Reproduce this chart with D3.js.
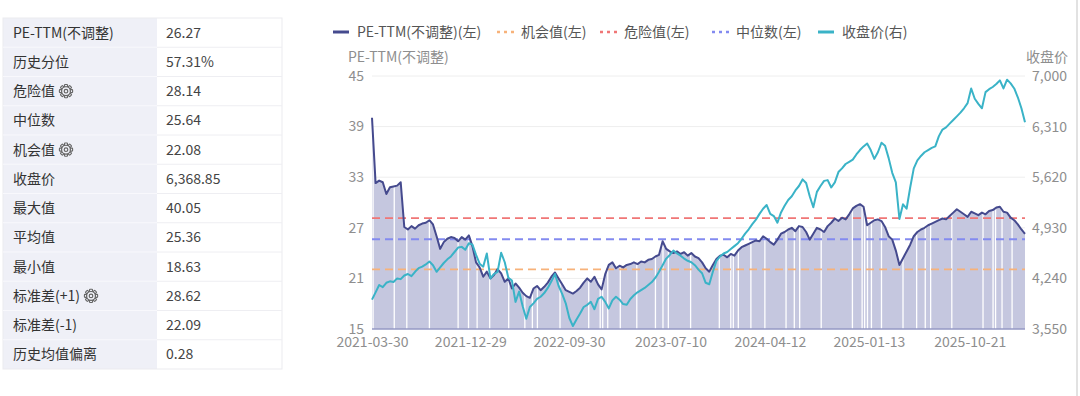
<!DOCTYPE html>
<html>
<head>
<meta charset="utf-8">
<script src="https://cdn.jsdelivr.net/npm/d3@7"></script>
<style>
  body { margin: 0; background: #fff; }
  text { font-family: "Noto Sans CJK SC", "Noto Sans", sans-serif; }
</style>
</head>
<body>
<div id="chart"></div>
<script>
// summary table
const tableLabels = ["PE-TTM(不调整)", "历史分位", "危险值", "中位数", "机会值", "收盘价",
                     "最大值", "平均值", "最小值", "标准差(+1)", "标准差(-1)", "历史均值偏离"];
const tableValues = ["26.27", "57.31%", "28.14", "25.64", "22.08", "6,368.85",
                     "40.05", "25.36", "18.63", "28.62", "22.09", "0.28"];
const gearRows = ["危险值", "机会值", "标准差(+1)"];

// series, sampled every 10 days from the start date
const startDay = "2021-03-30";
const stepDays = 10;
const peValues = [
  40.05, 32.3, 32.6, 32.4, 31.0, 31.8, 31.9, 32.0, 32.4, 27.1,
  26.8, 27.2, 26.9, 27.3, 27.5, 27.6, 27.9, 27.4, 26.0, 24.5,
  25.3, 25.7, 25.9, 25.8, 25.4, 25.9, 25.6, 26.1, 24.8, 22.9,
  22.3, 21.2, 21.8, 21.0, 21.4, 22.1, 21.6, 20.6, 21.0, 19.8,
  20.4, 19.9, 19.3, 18.9, 18.7, 19.8, 20.1, 19.6, 20.0, 20.5,
  21.2, 21.7, 21.0, 20.3, 19.6, 19.4, 19.2, 19.5, 19.9, 20.5,
  21.0, 20.6, 21.2, 20.3, 19.7, 21.5, 22.6, 22.9, 22.2, 22.5,
  22.3, 22.6, 22.7, 22.9, 22.7, 23.0, 22.9, 23.2, 23.3, 23.6,
  23.8, 25.4, 24.5, 24.2, 24.0, 24.2, 23.9, 24.1, 23.7, 24.0,
  23.6, 23.4, 22.9, 22.2, 21.8, 22.6, 23.3, 23.7, 23.8, 23.5,
  23.9, 23.7, 24.3, 24.7, 24.9, 25.1, 25.3, 25.5, 25.4, 26.0,
  25.7, 25.3, 25.0, 25.6, 26.3, 26.5, 26.8, 27.0, 26.6, 27.2,
  27.1, 26.5, 25.6, 26.3, 27.0, 26.8, 26.5, 27.2, 27.6, 28.1,
  27.8, 28.2, 28.0, 28.6, 29.3, 29.6, 29.8, 29.5, 27.3, 27.6,
  27.9, 28.0, 27.8, 27.1, 26.0, 25.6, 24.3, 22.6, 23.4, 24.2,
  25.0, 26.0, 26.5, 26.8, 27.0, 27.3, 27.5, 27.7, 27.9, 28.1,
  28.0, 28.4, 28.8, 29.2, 28.9, 28.6, 28.3, 28.9, 28.7, 28.5,
  28.8, 28.6, 29.0, 29.1, 29.4, 29.5, 28.9, 28.8, 28.2, 27.9,
  27.4, 26.8, 26.27
];
const closeValues = [
  3950, 4050, 4150, 4120, 4180, 4200, 4190, 4240, 4230, 4280,
  4300, 4270, 4330, 4380, 4400, 4430, 4470, 4420, 4330, 4390,
  4450, 4500, 4540, 4600, 4660, 4670, 4630, 4720, 4700, 4560,
  4440, 4400, 4580, 4240, 4300, 4330, 4590, 4460, 4250, 4210,
  3920, 4060, 3860, 3690, 3850, 3900, 3960, 3990, 4040, 4110,
  4200, 4300, 4140, 4030, 3900, 3700, 3590, 3680, 3760, 3850,
  3880, 3920, 3820, 3960, 3990, 3920, 3830, 3940, 3990, 3950,
  3890, 3880, 3960, 4010, 4050, 4080, 4110, 4150, 4190, 4250,
  4330, 4420, 4510, 4560, 4620, 4580, 4550, 4510, 4480, 4460,
  4420, 4360, 4310, 4180, 4160, 4330, 4480, 4540, 4580, 4600,
  4640, 4680, 4720, 4780, 4850, 4910, 4980, 5040, 5120, 5190,
  5240, 5120, 5090, 5000, 5140, 5230, 5310, 5360, 5440, 5500,
  5590, 5540, 5360, 5210, 5420, 5500, 5570, 5580, 5480, 5550,
  5690, 5740, 5800, 5830, 5860, 5930, 5990, 6040, 6080, 5990,
  5870, 5960, 6090, 6050, 5880, 5680, 5550, 5050, 5250, 5190,
  5480, 5740, 5850, 5910, 5960, 5990, 6020, 6040, 6180, 6270,
  6300, 6350, 6400, 6450, 6500, 6560, 6630, 6830, 6690, 6620,
  6560, 6780, 6820, 6850, 6890, 6940, 6830, 6950, 6900, 6830,
  6710, 6560, 6368.85
];

// reference levels
const dangerValue = 28.14;
const medianValue = 25.64;
const chanceValue = 22.08;

// market holidays (gaps in the area)
const holidays = [
  "2021-04-02", "2021-05-31", "2021-07-05", "2021-09-06", "2021-11-25", "2021-12-24",
  "2022-01-17", "2022-02-21", "2022-04-15", "2022-05-30", "2022-06-20", "2022-07-04",
  "2022-09-05", "2022-11-24", "2022-12-26",
  "2023-01-02", "2023-01-16", "2023-02-20", "2023-04-07", "2023-05-29", "2023-06-19",
  "2023-07-04", "2023-09-04", "2023-11-23", "2023-12-25",
  "2024-01-01", "2024-01-15", "2024-02-19", "2024-03-29", "2024-05-27", "2024-06-19",
  "2024-07-04", "2024-09-02", "2024-11-28", "2024-12-25",
  "2025-01-01", "2025-01-09", "2025-01-20", "2025-02-17", "2025-04-18", "2025-05-26",
  "2025-06-19", "2025-07-04", "2025-09-01", "2025-11-27", "2025-12-25",
  "2026-01-01", "2026-01-19", "2026-02-16"
];

const xTickDates = ["2021-03-30", "2021-12-29", "2022-09-30", "2023-07-10", "2024-04-12", "2025-01-13", "2025-10-21"];
const peTicks = [15, 21, 27, 33, 39, 45];
const closeTicks = [3550, 4240, 4930, 5620, 6310, 7000];

const legendItems = [
  {name: "PE-TTM(不调整)(左)", color: "#454a8e", dotted: false, x: 333},
  {name: "机会值(左)", color: "#f7b27a", dotted: true, x: 497},
  {name: "危险值(左)", color: "#f07676", dotted: true, x: 600},
  {name: "中位数(左)", color: "#838af0", dotted: true, x: 712},
  {name: "收盘价(右)", color: "#3ab3c7", dotted: false, x: 818}
];

const W = 1080, H = 396;
const parse = d3.utcParse("%Y-%m-%d");
const fmt = d3.utcFormat("%Y-%m-%d");

const svg = d3.select("#chart").append("svg")
    .attr("width", W)
    .attr("height", H);

// ---------- table ----------
const tbl = {left: 3, top: 18, rowH: 29.25, labelW: 154, width: 279};
let table = svg.append("g");
table.append("rect")
    .attr("x", tbl.left).attr("y", tbl.top)
    .attr("width", tbl.labelW).attr("height", tbl.rowH * tableLabels.length)
    .attr("fill", "#eff0f7");
table.append("rect")
    .attr("x", tbl.left).attr("y", tbl.top)
    .attr("width", tbl.width).attr("height", tbl.rowH * tableLabels.length)
    .attr("fill", "none").attr("stroke", "#ebebef");

tableLabels.forEach((label, i) => {
    let y = tbl.top + i * tbl.rowH;
    if (i > 0) {
        table.append("line")
            .attr("x1", tbl.left).attr("x2", tbl.left + tbl.labelW)
            .attr("y1", y).attr("y2", y)
            .attr("stroke", "#f8f8fc");
        table.append("line")
            .attr("x1", tbl.left + tbl.labelW).attr("x2", tbl.left + tbl.width)
            .attr("y1", y).attr("y2", y)
            .attr("stroke", "#eeeef2");
    }
    let t = table.append("text")
        .attr("x", 13).attr("y", y + tbl.rowH / 2)
        .attr("dy", "0.35em")
        .attr("font-size", 14)
        .attr("fill", "#333")
        .text(label);
    table.append("text")
        .attr("x", 166).attr("y", y + tbl.rowH / 2)
        .attr("dy", "0.35em")
        .attr("font-size", 14)
        .attr("fill", "#444")
        .text(tableValues[i]);
    if (gearRows.includes(label)) {
        // outline gear icon
        let gx = 13 + t.node().getComputedTextLength() + 11;
        let gy = y + tbl.rowH / 2;
        let gear = table.append("g").attr("transform", `translate(${gx},${gy})`);
        d3.range(8).forEach(k => {
            gear.append("rect")
                .attr("x", -1.5).attr("y", -6.6)
                .attr("width", 3).attr("height", 2.6)
                .attr("rx", 0.6)
                .attr("fill", "none")
                .attr("stroke", "#666").attr("stroke-width", 1.1)
                .attr("transform", `rotate(${k * 45})`);
        });
        gear.append("circle").attr("r", 4.4).attr("fill", "#eff0f7")
            .attr("stroke", "#666").attr("stroke-width", 1.2);
        gear.append("circle").attr("r", 1.8).attr("fill", "none")
            .attr("stroke", "#666").attr("stroke-width", 1.2);
    }
});

// ---------- chart ----------
const plot = {left: 372, right: 1025, top: 76, bottom: 329};

const dates = peValues.map((d, i) => d3.utcDay.offset(parse(startDay), i * stepDays));
const rows = dates.map((d, i) => ({date: d, pe: peValues[i], close: closeValues[i]}));

const x = d3.scaleUtc()
    .domain([dates[0], dates[dates.length - 1]])
    .range([plot.left, plot.right]);
const yL = d3.scaleLinear().domain([15, 45]).range([plot.bottom, plot.top]);
const yR = d3.scaleLinear().domain([3550, 7000]).range([plot.bottom, plot.top]);

// grid
svg.append("g").selectAll("line")
    .data(peTicks.slice(1))
    .enter().append("line")
    .attr("x1", plot.left).attr("x2", plot.right)
    .attr("y1", d => yL(d)).attr("y2", d => yL(d))
    .attr("stroke", "#eeeeee");

// area
let area = d3.area()
    .x(d => x(d.date))
    .y0(yL(15))
    .y1(d => yL(d.pe));
svg.append("clipPath").attr("id", "areaClip")
    .append("path").attr("d", area(rows));
svg.append("path")
    .attr("d", area(rows))
    .attr("fill", "#c5c7df");
svg.append("g").attr("clip-path", "url(#areaClip)")
    .selectAll("line")
    .data(holidays)
    .enter().append("line")
    .attr("x1", d => x(parse(d))).attr("x2", d => x(parse(d)))
    .attr("y1", plot.top).attr("y2", plot.bottom)
    .attr("stroke", "#fff")
    .attr("stroke-width", 1.3);

// bottom axis line
svg.append("line")
    .attr("x1", plot.left).attr("x2", plot.right)
    .attr("y1", plot.bottom).attr("y2", plot.bottom)
    .attr("stroke", "#9598c4").attr("stroke-width", 1.5);

// reference lines
[[chanceValue, "#f7b27a"], [dangerValue, "#f07676"], [medianValue, "#838af0"]].forEach(([v, c]) => {
    svg.append("line")
        .attr("x1", plot.left).attr("x2", plot.right)
        .attr("y1", yL(v)).attr("y2", yL(v))
        .attr("stroke", c).attr("stroke-width", 1.8)
        .attr("stroke-dasharray", "8,5");
});

// PE line
svg.append("path")
    .datum(rows)
    .attr("d", d3.line().x(d => x(d.date)).y(d => yL(d.pe)))
    .attr("fill", "none")
    .attr("stroke", "#454a8e")
    .attr("stroke-width", 2)
    .attr("stroke-linejoin", "round");

// close price line
svg.append("path")
    .datum(rows)
    .attr("d", d3.line().x(d => x(d.date)).y(d => yR(d.close)))
    .attr("fill", "none")
    .attr("stroke", "#3ab3c7")
    .attr("stroke-width", 2)
    .attr("stroke-linejoin", "round");

// axes
let axisLeft = svg.append("g")
    .attr("transform", `translate(${plot.left - 8},0)`)
    .call(d3.axisLeft(yL).tickValues(peTicks).tickSize(0).tickPadding(0));
let axisRight = svg.append("g")
    .attr("transform", `translate(${plot.right + 7},0)`)
    .call(d3.axisRight(yR).tickValues(closeTicks).tickSize(0).tickPadding(0).tickFormat(d3.format(",")));
let axisBottom = svg.append("g")
    .attr("transform", `translate(0,${plot.bottom + 8})`)
    .call(d3.axisBottom(x).tickValues(xTickDates.map(parse)).tickSize(0).tickPadding(0).tickFormat(fmt));
[axisLeft, axisRight, axisBottom].forEach(a => {
    a.select(".domain").remove();
    a.selectAll("text")
        .attr("font-size", 14)
        .attr("fill", "#8e8e8e")
        .style("font-family", '"Noto Sans CJK SC", "Noto Sans", sans-serif');
});
axisLeft.selectAll("text").attr("dy", "0.3em");

// axis names
svg.append("text")
    .attr("x", 348).attr("y", 57).attr("dy", "0.35em")
    .attr("font-size", 14).attr("fill", "#8e8e8e")
    .text("PE-TTM(不调整)");
svg.append("text")
    .attr("x", 1068).attr("y", 57).attr("dy", "0.35em")
    .attr("text-anchor", "end")
    .attr("font-size", 14).attr("fill", "#8e8e8e")
    .text("收盘价");

// legend
let legend = svg.append("g");
legendItems.forEach(item => {
    let g = legend.append("g").attr("transform", `translate(${item.x},32)`);
    g.append("line")
        .attr("x1", 0).attr("x2", item.dotted ? 18 : 16)
        .attr("y1", 0).attr("y2", 0)
        .attr("stroke", item.color)
        .attr("stroke-width", item.dotted ? 2.5 : 3)
        .attr("stroke-dasharray", item.dotted ? "3,4" : null);
    g.append("text")
        .attr("x", 24).attr("dy", "0.35em")
        .attr("font-size", 14).attr("fill", "#555")
        .text(item.name);
});

// right frame edge
svg.append("line")
    .attr("x1", 1077).attr("x2", 1077).attr("y1", 0).attr("y2", H)
    .attr("stroke", "#d9d9d9").attr("stroke-width", 1.5);
</script>
</body>
</html>
